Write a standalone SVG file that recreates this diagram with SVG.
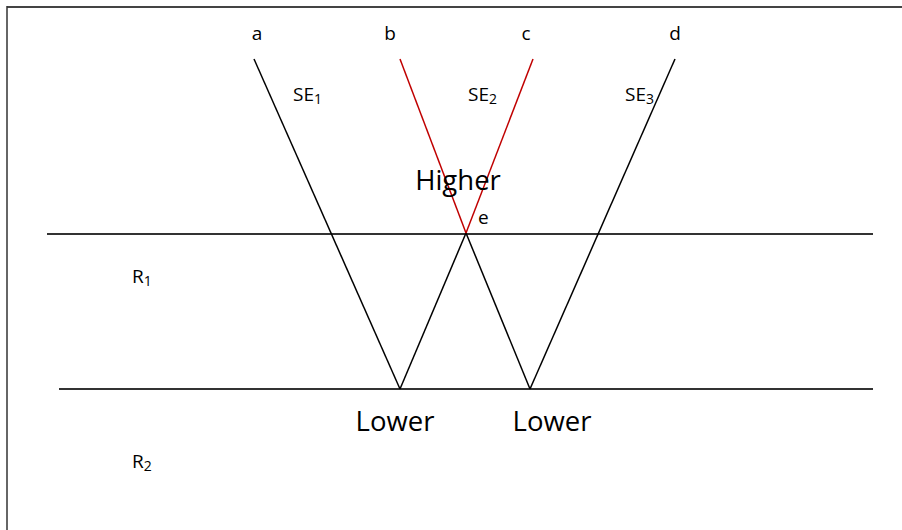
<svg xmlns="http://www.w3.org/2000/svg" width="902" height="530" viewBox="0 0 902 530">
<style>
.t{font-family:"Open Sans","Liberation Sans",sans-serif;fill:#000}
.s{font-size:19px}
.b{font-size:27.5px}
.sub{font-size:14px}
.k{stroke:#000;stroke-width:1.5;fill:none}
.r{stroke:#c00000;stroke-width:1.5;fill:none}
.h{stroke:#333;stroke-width:2;fill:none}
</style>
<rect width="902" height="530" fill="#fff"/>
<g id="frame">
<line x1="7" y1="7" x2="902" y2="7" stroke="#444" stroke-width="2"/>
<line x1="7" y1="6" x2="7" y2="530" stroke="#333" stroke-width="1.5"/>
</g>
<g id="connectors">
<line class="h" x1="47" y1="234" x2="873" y2="234"/>
<line class="h" x1="59" y1="389" x2="873" y2="389"/>
<line class="k" x1="254" y1="59" x2="400" y2="389"/>
<line class="k" x1="400" y1="389" x2="466" y2="233"/>
<line class="k" x1="466" y1="233" x2="530" y2="389"/>
<line class="k" x1="530" y1="389" x2="675" y2="59"/>
<line class="r" x1="400" y1="59" x2="466" y2="233"/>
<line class="r" x1="533" y1="59" x2="466" y2="233"/>
</g>
<g id="labels">
<text class="t s" x="257" y="40" text-anchor="middle">a</text>
<text class="t s" x="390" y="40" text-anchor="middle">b</text>
<text class="t s" x="526" y="40" text-anchor="middle">c</text>
<text class="t s" x="675" y="40" text-anchor="middle">d</text>
<text class="t s" x="293" y="101">SE<tspan class="sub" dy="3">1</tspan></text>
<text class="t s" x="468" y="101">SE<tspan class="sub" dy="3">2</tspan></text>
<text class="t s" x="625" y="101">SE<tspan class="sub" dy="3">3</tspan></text>
<text class="t b" x="458" y="190" text-anchor="middle">Higher</text>
<text class="t s" x="478" y="224">e</text>
<text class="t s" x="132" y="283">R<tspan class="sub" dy="3">1</tspan></text>
<text class="t s" x="132" y="468">R<tspan class="sub" dy="3">2</tspan></text>
<text class="t b" x="395" y="431" text-anchor="middle">Lower</text>
<text class="t b" x="552" y="431" text-anchor="middle">Lower</text>
</g>
</svg>
